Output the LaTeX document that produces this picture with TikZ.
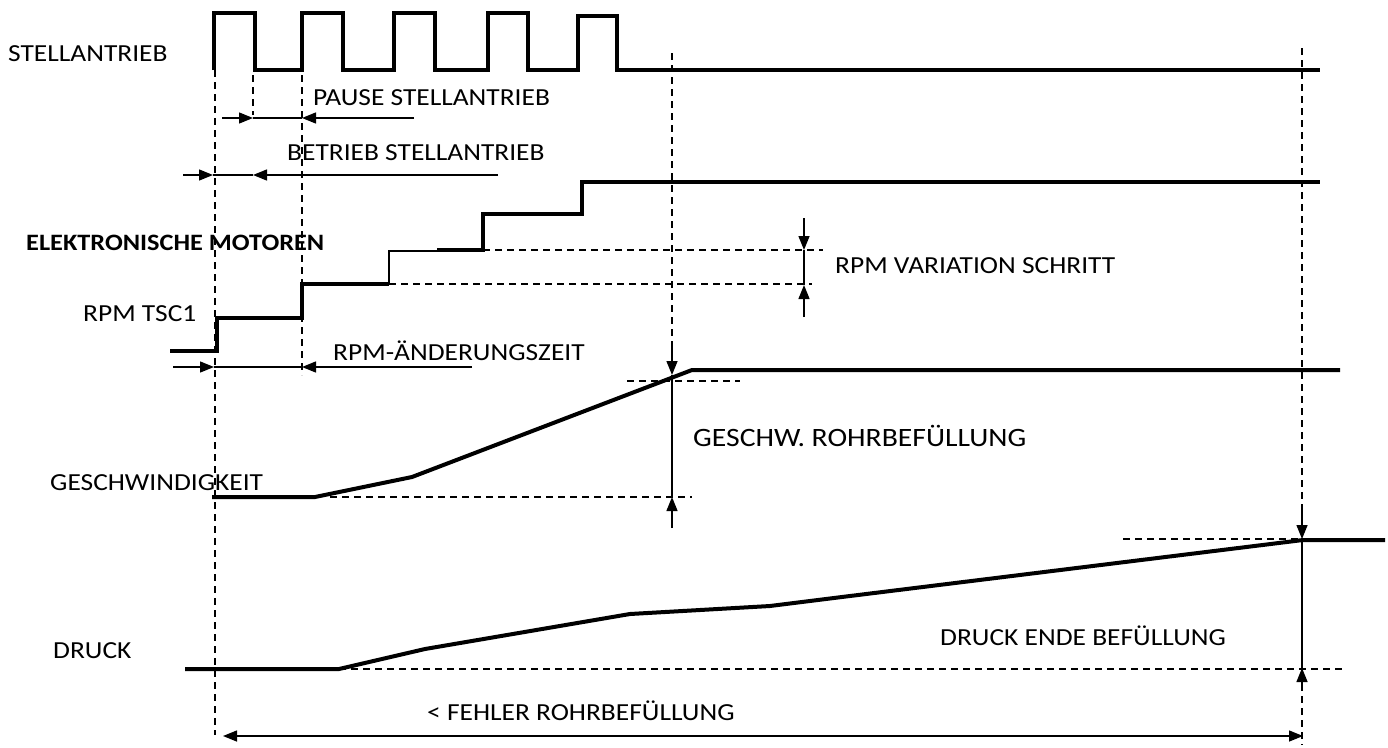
\documentclass[tikz,border=0pt]{standalone}
\usepackage{fontspec}
\setmainfont{Carlito}[FakeStretch=1.12]
\usetikzlibrary{arrows.meta}
\tikzset{
  signal/.style={line width=4pt, line join=miter},
  guide/.style={line width=1.4pt, dash pattern=on 7pt off 5pt},
  dim/.style={line width=1.4pt},
  tip/.style={dim, -{Triangle[length=14pt,width=11pt]}},
  lbl/.style={anchor=base west, inner sep=0pt, font=\fontsize{24.5}{29}\selectfont},
}
\begin{document}
\begin{tikzpicture}[x=1pt, y=-1pt]
  \useasboundingbox (0,0) rectangle (1388,747);

  % signals
  \draw[signal] (214,70) foreach \a/\b/\t in {214/255/13, 302/343/13, 394/435/13, 488/528/13, 578/617/16} {
    -- (\a,70) -- (\a,\t) -- (\b,\t) -- (\b,70) } -- (1320,70);
  \draw[signal] (170,351) -- (217,351) -- (217,318) -- (302,318) -- (302,284) -- (389,284);
  \draw[dim] (389,284) -- (389,251) -- (437,251);
  \draw[signal] (437,250) -- (483,250) -- (483,214) -- (582,214) -- (582,182) -- (1320,182);
  \draw[signal] (212,497) -- (315,497) -- (412,477) -- (692,370) -- (1340,370);
  \draw[signal] (185,669) -- (339,669) -- (425,649) -- (630,614) -- (770,606) -- (850,596) -- (1303,540) -- (1385,540);

  % guides
  \foreach \x/\a/\b in {215/70/735, 253/75/115, 302/75/375, 672/53/343, 1302/48/745}
    \draw[guide] (\x,\a) -- (\x,\b);
  \foreach \y/\a/\b in {250/483/823, 284/389/812, 381/627/740, 497/330/692, 539/1123/1303, 669/339/1343}
    \draw[guide] (\a,\y) -- (\b,\y);

  % dimension arrows
  \draw[tip] (222,118) -- (253,118);  \draw[dim] (253,118) -- (302,118);  \draw[tip] (414,118) -- (302,118);
  \draw[tip] (183,175) -- (213,175);  \draw[dim] (213,175) -- (253,175);  \draw[tip] (498,175) -- (253,175);
  \draw[tip] (173,367) -- (214,367);  \draw[dim] (214,367) -- (302,367);  \draw[tip] (472,367) -- (302,367);
  \draw[tip] (804,218) -- (804,250);  \draw[dim] (804,250) -- (804,285);  \draw[tip] (804,317) -- (804,285);
  \draw[tip] (672,343) -- (672,375);  \draw[dim] (672,375) -- (672,497);  \draw[tip] (672,528) -- (672,497);
  \draw[tip] (1302,505) -- (1302,539); \draw[dim] (1302,539) -- (1302,668); \draw[tip] (1302,687) -- (1302,668);
  \draw[dim, {Triangle[length=14pt,width=11pt]}-{Triangle[length=14pt,width=11pt]}] (223,736) -- (1303,736);

  % labels
  \node[lbl] (stell) at (8,61) {STELLANTRIEB};
  \node[lbl] (pause) at (313,105) {PAUSE STELLANTRIEB};
  \node[lbl] (betrieb) at (287,160) {BETRIEB STELLANTRIEB};
  \node[lbl, font=\fontsize{23.5}{28}\selectfont\bfseries] (motoren) at (26,250) {ELEKTRONISCHE MOTOREN};
  \node[lbl] (variation) at (835,273) {RPM VARIATION SCHRITT};
  \node[lbl] (tsc) at (83,321) {RPM TSC1};
  \node[lbl] (aenderung) at (333,360) {RPM-ÄNDERUNGSZEIT};
  \node[lbl, font=\fontsize{26.5}{31}\selectfont] (rohr) at (693,446) {GESCHW. ROHRBEFÜLLUNG};
  \node[lbl] (geschw) at (50,490) {GESCHWINDIGKEIT};
  \node[lbl] (ende) at (940,645) {DRUCK ENDE BEFÜLLUNG};
  \node[lbl] (druck) at (53,658) {DRUCK};
  \node[lbl] (fehler) at (427,720) {< FEHLER ROHRBEFÜLLUNG};
\end{tikzpicture}
\end{document}
